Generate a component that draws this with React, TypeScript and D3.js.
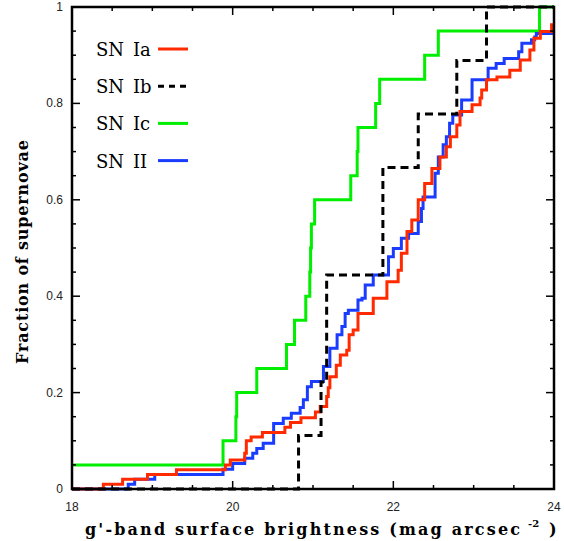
import React, { useEffect, useRef } from "react";
import * as d3 from "d3";

// g'-band surface brightness vs cumulative fraction, one [mag, fraction] pair per step
const xTicks = [18, 20, 22, 24];
const yTicks = [0, 0.2, 0.4, 0.6, 0.8, 1];

const snIa: [number, number][] = [
  [18, 0], [18.39, 0.01], [18.63, 0.02], [18.94, 0.03], [19.3, 0.04], [19.91, 0.05],
  [19.97, 0.06], [20.15, 0.074], [20.17, 0.1], [20.23, 0.108], [20.37, 0.117],
  [20.65, 0.128], [20.72, 0.138], [20.85, 0.148], [21.03, 0.16], [21.09, 0.171],
  [21.17, 0.192], [21.19, 0.21], [21.21, 0.233], [21.29, 0.257], [21.34, 0.278],
  [21.42, 0.288], [21.45, 0.32], [21.5, 0.33], [21.56, 0.364], [21.75, 0.396],
  [21.92, 0.43], [22.06, 0.454], [22.1, 0.489], [22.17, 0.534], [22.23, 0.558],
  [22.31, 0.6], [22.39, 0.634], [22.48, 0.665], [22.58, 0.689], [22.66, 0.71],
  [22.71, 0.731], [22.79, 0.755], [22.83, 0.783], [22.98, 0.797], [23.08, 0.811],
  [23.1, 0.828], [23.16, 0.849], [23.29, 0.855], [23.45, 0.869], [23.58, 0.89],
  [23.7, 0.911], [23.75, 0.935], [23.83, 0.949], [23.97, 0.963],
];

const snIb: [number, number][] = [
  [18, 0], [20.82, 0.111], [21.1, 0.222], [21.17, 0.444], [21.87, 0.667],
  [22.31, 0.778], [22.79, 0.889], [23.16, 1],
];

const snIc: [number, number][] = [
  [18, 0.05], [19.88, 0.1], [20.04, 0.15], [20.05, 0.2], [20.3, 0.25], [20.67, 0.3],
  [20.77, 0.35], [20.91, 0.4], [20.96, 0.45], [20.97, 0.5], [20.98, 0.55], [21.02, 0.6],
  [21.47, 0.65], [21.55, 0.7], [21.56, 0.75], [21.78, 0.8], [21.83, 0.85], [22.39, 0.9],
  [22.56, 0.95], [23.82, 1],
];

const snII: [number, number][] = [
  [18, 0], [18.7, 0.01], [18.78, 0.02], [19.03, 0.03], [19.88, 0.041], [20.0, 0.053],
  [20.15, 0.064], [20.25, 0.074], [20.3, 0.084], [20.38, 0.095], [20.51, 0.136],
  [20.63, 0.147], [20.73, 0.157], [20.84, 0.169], [20.88, 0.185], [20.93, 0.212],
  [20.98, 0.223], [21.13, 0.254], [21.21, 0.292], [21.3, 0.32], [21.36, 0.337],
  [21.4, 0.364], [21.44, 0.371], [21.56, 0.392], [21.61, 0.396], [21.65, 0.423],
  [21.75, 0.444], [21.94, 0.482], [22.0, 0.499], [22.1, 0.52], [22.19, 0.53],
  [22.31, 0.555], [22.35, 0.582], [22.37, 0.606], [22.52, 0.655], [22.56, 0.689],
  [22.62, 0.714], [22.66, 0.731], [22.7, 0.759], [22.74, 0.776], [22.85, 0.807],
  [22.98, 0.849], [23.18, 0.873], [23.28, 0.883], [23.38, 0.893], [23.56, 0.907],
  [23.6, 0.925], [23.72, 0.932], [23.76, 0.938], [23.78, 0.945],
];

const legendNames = ["SN", "SN", "SN", "SN"];
const legendTypes = ["Ia", "Ib", "Ic", "II"];
const colors = ["#ff2a00", "#000000", "#00ee00", "#1a3cff"];

const W = 564, H = 541;
const margin = { top: 7, right: 10, bottom: 52, left: 72 };

export default function App() {
  const ref = useRef<SVGSVGElement>(null);

  useEffect(() => {
    const svg = d3.select(ref.current);
    svg.selectAll("*").remove();
    const w = W - margin.left - margin.right;
    const h = H - margin.top - margin.bottom;
    const x = d3.scaleLinear().domain([18, 24]).range([margin.left, margin.left + w]);
    const y = d3.scaleLinear().domain([0, 1]).range([margin.top + h, margin.top]);

    svg.append("clipPath").attr("id", "plotclip")
      .append("rect").attr("x", margin.left).attr("y", margin.top - 2)
      .attr("width", w).attr("height", h + 4);

    const line = d3.line<[number, number]>()
      .x((d) => x(d[0])).y((d) => y(d[1]))
      .curve(d3.curveStepAfter);
    const ext = (s: [number, number][]) => [...s, [24, s[s.length - 1][1]] as [number, number]];

    const g = svg.append("g").attr("clip-path", "url(#plotclip)");
    g.append("path").attr("d", line(ext(snIc))).attr("fill", "none")
      .attr("stroke", colors[2]).attr("stroke-width", 3);
    g.append("path").attr("d", line(ext(snII))).attr("fill", "none")
      .attr("stroke", colors[3]).attr("stroke-width", 3);
    g.append("path").attr("d", line(ext(snIa))).attr("fill", "none")
      .attr("stroke", colors[0]).attr("stroke-width", 3);
    g.append("path").attr("d", line(ext(snIb))).attr("fill", "none")
      .attr("stroke", colors[1]).attr("stroke-width", 3).attr("stroke-dasharray", "8,5");

    // ticks inward on all four sides
    const tk = svg.append("g").attr("stroke", "#000").attr("stroke-width", 1.5);
    d3.range(18, 24.01, 0.5).forEach((v) => {
      const major = Math.abs(v - Math.round(v / 2) * 2) < 1e-6;
      const len = major ? 8 : 4;
      tk.append("line").attr("x1", x(v)).attr("x2", x(v)).attr("y1", y(0)).attr("y2", y(0) - len);
      tk.append("line").attr("x1", x(v)).attr("x2", x(v)).attr("y1", y(1)).attr("y2", y(1) + len);
    });
    d3.range(0, 1.001, 0.05).forEach((v) => {
      const major = Math.abs(v * 5 - Math.round(v * 5)) < 1e-6;
      const len = major ? 8 : 4;
      tk.append("line").attr("x1", x(18)).attr("x2", x(18) + len).attr("y1", y(v)).attr("y2", y(v));
      tk.append("line").attr("x1", x(24)).attr("x2", x(24) - len).attr("y1", y(v)).attr("y2", y(v));
    });

    svg.append("rect").attr("x", x(18)).attr("y", y(1))
      .attr("width", x(24) - x(18)).attr("height", y(0) - y(1))
      .attr("fill", "none").attr("stroke", "#000").attr("stroke-width", 2.5);

    const lbl = svg.append("g").attr("font-family", "'Liberation Sans', Arial, sans-serif")
      .attr("font-size", 12).attr("fill", "#222");
    xTicks.forEach((v) => {
      lbl.append("text").attr("x", x(v)).attr("y", y(0) + 22)
        .attr("text-anchor", "middle").text(String(v));
    });
    yTicks.forEach((v) => {
      lbl.append("text").attr("x", x(18) - 9).attr("y", y(v) + 4)
        .attr("text-anchor", "end").text(String(v));
    });

    // axis titles
    const title = svg.append("g").attr("font-family", "'DejaVu Serif', serif")
      .attr("font-weight", "bold").attr("fill", "#000");
    title.append("text").attr("x", 85).attr("y", 535).attr("font-size", 16)
      .attr("textLength", 435).attr("lengthAdjust", "spacing")
      .text("g'-band surface brightness (mag arcsec");
    title.append("text").attr("x", 528).attr("y", 527).attr("font-size", 10).text("-2");
    title.append("text").attr("x", 549).attr("y", 535).attr("font-size", 16).text(")");
    title.append("text").attr("transform", "translate(28,252) rotate(-90)")
      .attr("text-anchor", "middle").attr("font-size", 16)
      .attr("textLength", 224).attr("lengthAdjust", "spacing")
      .text("Fraction of supernovae");

    // legend
    const lg = svg.append("g").attr("font-family", "'DejaVu Serif', serif").attr("font-size", 18);
    legendTypes.forEach((t, i) => {
      const ly = 49 + i * 37.2;
      lg.append("text").attr("x", 96).attr("y", ly + 7).text(legendNames[i]);
      lg.append("text").attr("x", 133).attr("y", ly + 7).text(t);
      lg.append("line").attr("x1", 158).attr("x2", 188).attr("y1", ly).attr("y2", ly)
        .attr("stroke", colors[i]).attr("stroke-width", 3)
        .attr("stroke-dasharray", i === 1 ? "6,5" : null);
    });
  }, []);

  return (
    <svg ref={ref} width={W} height={H}
      style={{ position: "absolute", left: 0, top: 0, background: "#fff" }} />
  );
}
